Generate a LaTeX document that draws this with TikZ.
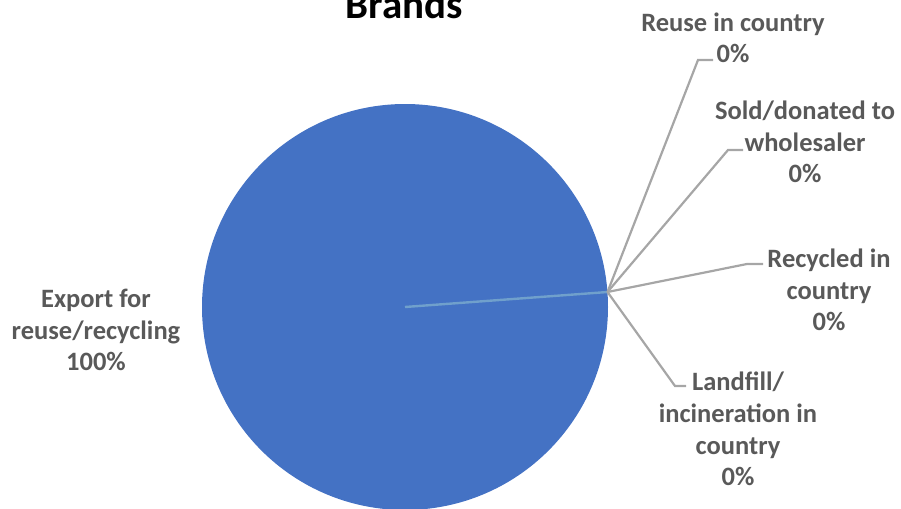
\documentclass[tikz,border=0pt]{standalone}
\usepackage{fontspec}
\setmainfont{Carlito}
\usetikzlibrary{calc,positioning}
\definecolor{kakeblaa}{HTML}{4472C4}
\definecolor{kantblaa}{HTML}{70A0CC}
\definecolor{tekstgraa}{HTML}{595959}
\definecolor{linjegraa}{HTML}{A6A6A6}
\tikzset{
    etikett/.style={
           text=tekstgraa,
           font=\fontsize{13.25}{15.8}\selectfont\bfseries,
           align=center,
           inner sep=0pt},
    leder/.style={
           draw=linjegraa,
           line width=1.1pt}
}

\begin{document}
\begin{tikzpicture}[x=0.5pt, y=-0.5pt]
        \useasboundingbox (0,0) rectangle (901,509);
        \coordinate (midt) at (405,307);
        \coordinate (kant) at (607.5,292);
        \fill[kakeblaa] (midt) circle[radius=101.5pt];
        \draw[kantblaa, line width=1.2pt] (midt) -- (kant);

        \node[font=\fontsize{20.5}{24}\selectfont\bfseries, anchor=base] (tittel) at (404,18) {Brands};

        \node[etikett] (eksport) at (96,330) {Export for\\reuse/recycling\\100\%};
        \node[etikett] (gjenbruk) at (733,38) {Reuse in country\\0\%};
        \node[etikett] (solgt) at (805,142) {Sold/donated to\\wholesaler\\0\%};
        \node[etikett] (resirk) at (829,290) {Recycled in\\country\\0\%};
        \node[etikett] (deponi) at (738,429) {Landfill/\\incineration in\\country\\0\%};

        \coordinate (k1) at (698,60);  \coordinate (e1) at (713,60);
        \coordinate (k2) at (728,150); \coordinate (e2) at (743,150);
        \coordinate (k3) at (747,264); \coordinate (e3) at (763,264);
        \coordinate (k4) at (675,386); \coordinate (e4) at (686,386);

        \draw[leder] (kant) -- (k1) -- (e1);
        \draw[leder] (kant) -- (k2) -- (e2);
        \draw[leder] (kant) -- (k3) -- (e3);
        \draw[leder] (kant) -- (k4) -- (e4);
    \end{tikzpicture}
\end{document}
